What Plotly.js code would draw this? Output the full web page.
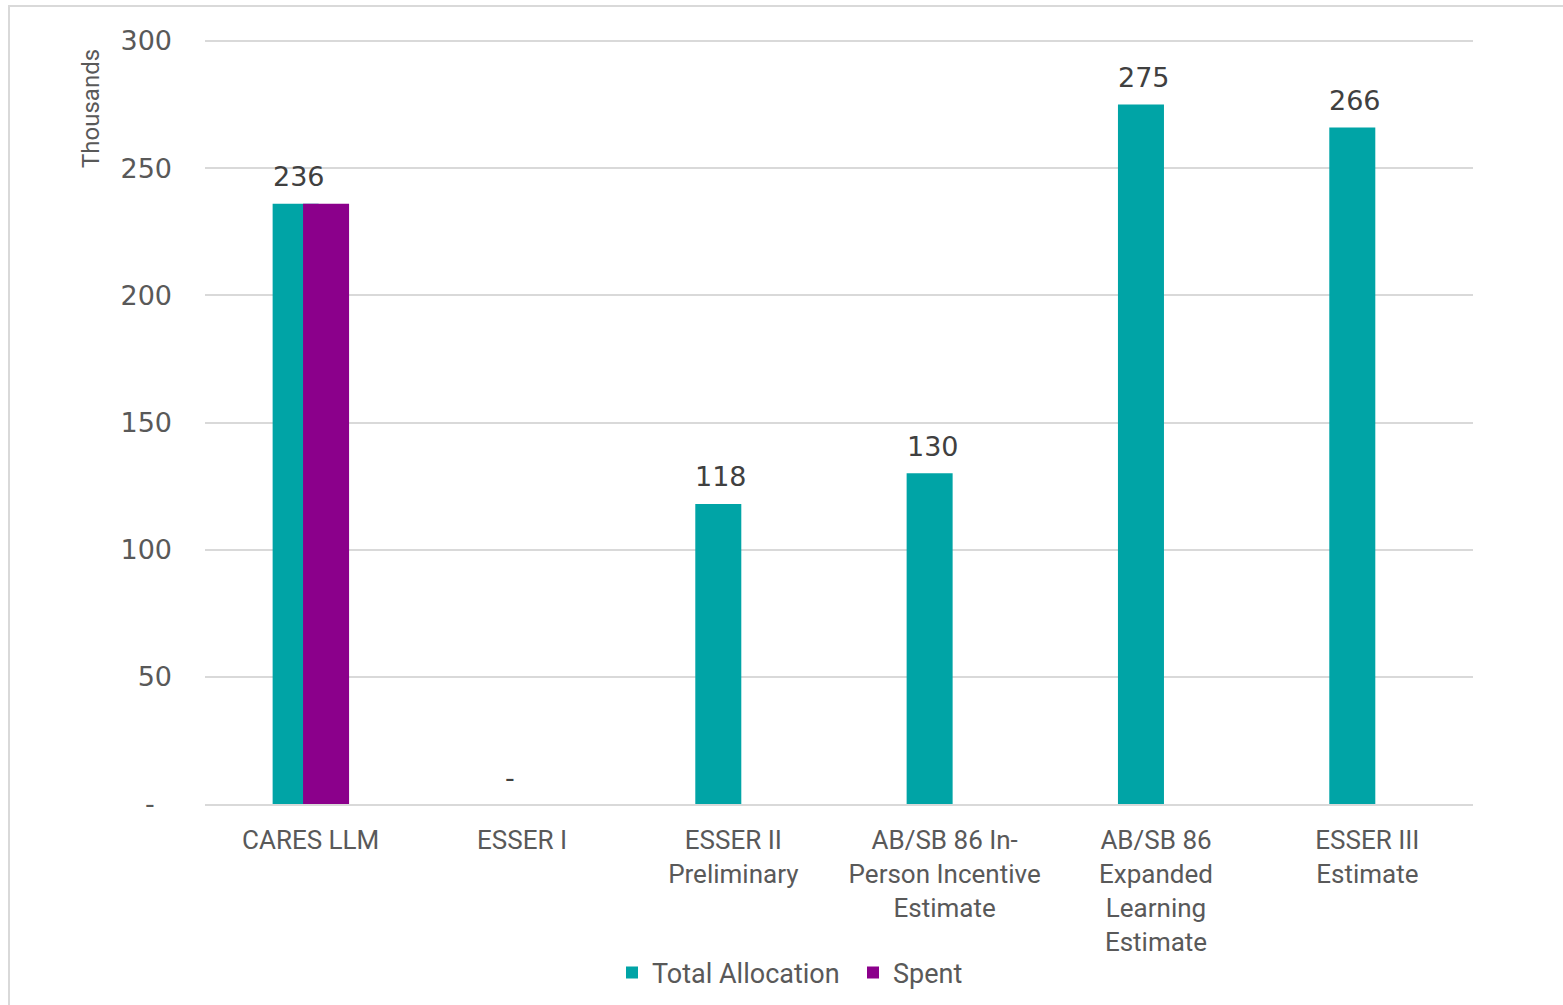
<!DOCTYPE html>
<html>
<head>
<meta charset="utf-8">
<script src="https://cdn.plot.ly/plotly-3.0.1.min.js"></script>
<style>html,body{margin:0;padding:0;background:#fff;}#chart{width:1563px;height:1005px;}</style>
</head>
<body>
<div id="chart"></div>
<script>
const categories = ["CARES LLM", "ESSER I", "ESSER II<br>Preliminary", "AB/SB 86 In-<br>Person Incentive<br>Estimate", "AB/SB 86<br>Expanded<br>Learning<br>Estimate", "ESSER III<br>Estimate"];
const totalAllocation = [236, 0, 118, 130, 275, 266];
const spent = [236, null, null, null, null, null];
const totalLabels = ["236", "-", "118", "130", "275", "266"];
const yTickVals = [0, 50, 100, 150, 200, 250, 300];
const yTickText = ["-\u00a0\u00a0", "50", "100", "150", "200", "250", "300"];

const textColor = "#595959";
const font = "Roboto, 'Liberation Sans', Arial, sans-serif";
const numFont = "'DejaVu Sans', Roboto, sans-serif";

const traces = [
  {
    type: "bar", name: "Total Allocation", x: categories, y: totalAllocation,
    width: 0.2177, offset: -0.18,
    marker: {color: "#00A4A6"}, hoverinfo: "x+y"
  },
  {
    type: "bar", name: "Spent", x: categories, y: spent,
    width: 0.2177, offset: -0.036,
    marker: {color: "#8B008B"}, hoverinfo: "x+y"
  }
];

const annotations = categories.map((c, i) => ({
  x: c, y: totalAllocation[i], xref: "x", yref: "y",
  text: totalLabels[i], showarrow: false,
  xanchor: "center", yanchor: "middle", xshift: -12, yshift: 27,
  font: {family: numFont, size: 27, color: "#404040"}
}));
annotations.push({
  xref: "paper", yref: "paper", x: (91 - 205) / 1268, y: (804 - 109) / 764,
  text: "Thousands", textangle: -90, showarrow: false,
  xanchor: "center", yanchor: "middle",
  font: {family: font, size: 24, color: textColor}
});

const layout = {
  width: 1563, height: 1005,
  margin: {l: 205, r: 90, t: 40, b: 201, autoexpand: false},
  paper_bgcolor: "#ffffff", plot_bgcolor: "#ffffff",
  font: {family: font, size: 26, color: textColor},
  showlegend: true,
  legend: {
    orientation: "h", xref: "container", yref: "container",
    x: 612 / 1563, xanchor: "left",
    y: 1 - 973 / 1005, yanchor: "middle",
    font: {family: font, size: 27, color: textColor},
    entrywidth: 196, entrywidthmode: "pixels",
    itemwidth: 30, bgcolor: "rgba(0,0,0,0)"
  },
  xaxis: {
    type: "category", tickfont: {family: font, size: 26, color: textColor},
    showgrid: false, showline: true, linecolor: "#D9D9D9", linewidth: 2,
    ticks: "", ticklabelstandoff: 12, fixedrange: true, automargin: false
  },
  yaxis: {
    range: [0, 300.4], tickvals: yTickVals, ticktext: yTickText,
    tickfont: {family: numFont, size: 27, color: textColor},
    showgrid: true, gridcolor: "#D9D9D9", gridwidth: 2,
    zeroline: false, showline: false, ticks: "", ticklabelstandoff: 32,
    fixedrange: true, automargin: false
  },
  annotations: annotations,
  shapes: [{
    type: "rect", xref: "paper", yref: "paper",
    x0: (9 - 205) / 1268, x1: (1580 - 205) / 1268,
    y0: (804 - 1020) / 764, y1: (804 - 6) / 764,
    line: {color: "#D9D9D9", width: 2}, fillcolor: "rgba(0,0,0,0)", layer: "below"
  }]
};

Plotly.newPlot("chart", traces, layout, {displayModeBar: false, staticPlot: true});
</script>
</body>
</html>
